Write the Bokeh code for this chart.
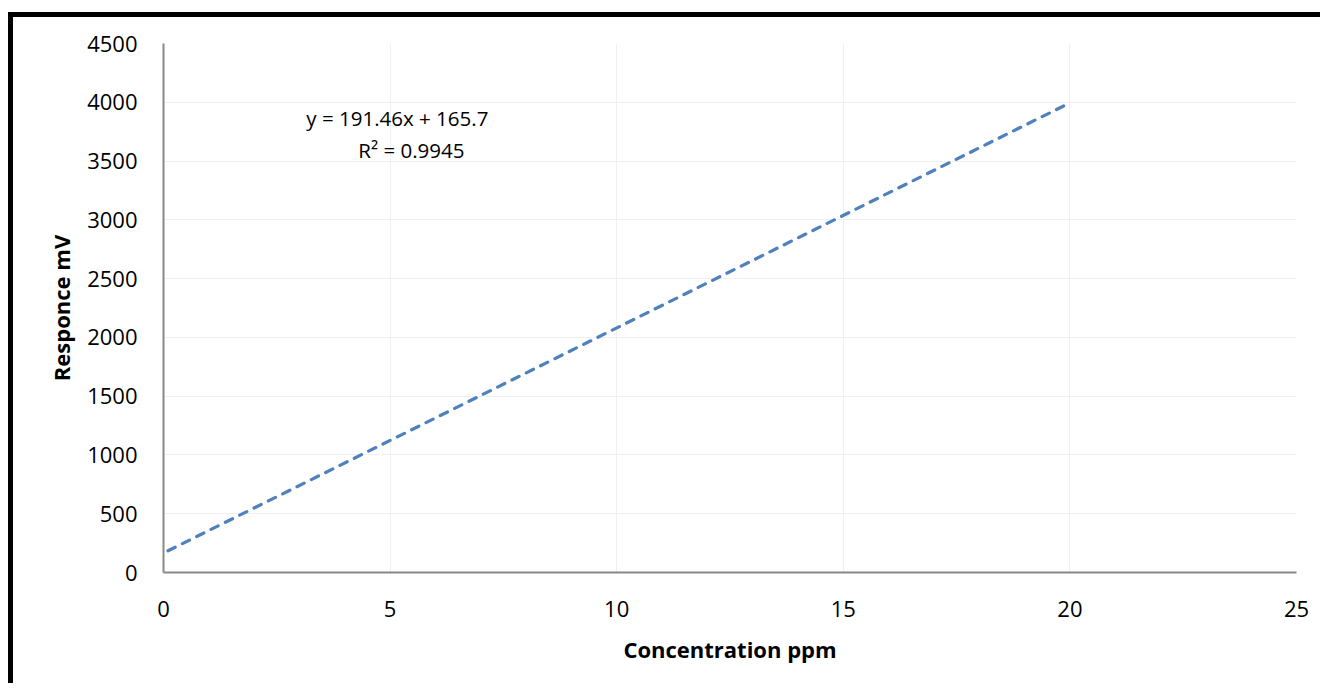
from bokeh.plotting import figure
from bokeh.models import Range1d, FixedTicker
from bokeh.core.properties import value
from bokeh.embed import file_html
from bokeh.resources import INLINE

# Trendline endpoints
trend_x = [0.1, 19.9]
trend_y = [185, 3976]
eq_text = ["y = 191.46x + 165.7", "R² = 0.9945"]
eq_x = [5.16, 5.47]
eq_y = [3870, 3590]

x_ticks = [0, 5, 10, 15, 20, 25]
y_ticks = [0, 500, 1000, 1500, 2000, 2500, 3000, 3500, 4000, 4500]

FONT = "Open Sans"

p = figure(width=1320, height=683, output_backend="svg", toolbar_location=None,
           x_range=Range1d(0, 25), y_range=Range1d(0, 4500),
           min_border_left=163, min_border_right=24, min_border_top=43, min_border_bottom=111)
p.outline_line_color = None
p.background_fill_color = "white"
p.border_fill_alpha = 0
p.styles = {
    "background-color": "white",
    "background-image": "linear-gradient(#000,#000), linear-gradient(#000,#000)",
    "background-repeat": "no-repeat",
    "background-size": "100% 5px, 5px 100%",
    "background-position": "8px 12px, 8px 12px",
}

p.line(trend_x, trend_y, line_color="#4F81BD", line_width=3.2, line_dash="8 8", line_cap="round")

p.text(x=eq_x, y=eq_y, text=eq_text, text_font=value(FONT), text_font_size="20.5px",
       text_align="center", text_baseline="middle", text_color="black")

for ax in (p.xaxis[0], p.yaxis[0]):
    ax.axis_line_color = "#898989"
    ax.axis_line_width = 2
    ax.major_tick_line_color = None
    ax.minor_tick_line_color = None
    ax.major_label_text_font = FONT
    ax.major_label_text_font_size = "22px"
    ax.major_label_text_color = "black"
    ax.axis_label_text_font = FONT
    ax.axis_label_text_font_size = "22px"
    ax.axis_label_text_font_style = "bold"
    ax.axis_label_text_color = "black"

p.xaxis[0].ticker = FixedTicker(ticks=x_ticks)
p.yaxis[0].ticker = FixedTicker(ticks=y_ticks)
p.xaxis[0].axis_label = "Concentration ppm"
p.yaxis[0].axis_label = "Responce mV"
p.xaxis[0].major_label_standoff = 22
p.yaxis[0].major_label_standoff = 20
p.xaxis[0].axis_label_standoff = 14
p.yaxis[0].axis_label_standoff = 8

p.xgrid.grid_line_color = "#f0f0f0"
p.ygrid.grid_line_color = "#f0f0f0"
p.xgrid.ticker = FixedTicker(ticks=x_ticks)
p.ygrid.ticker = FixedTicker(ticks=y_ticks)

open("out.html", "w").write(file_html(p, INLINE))
